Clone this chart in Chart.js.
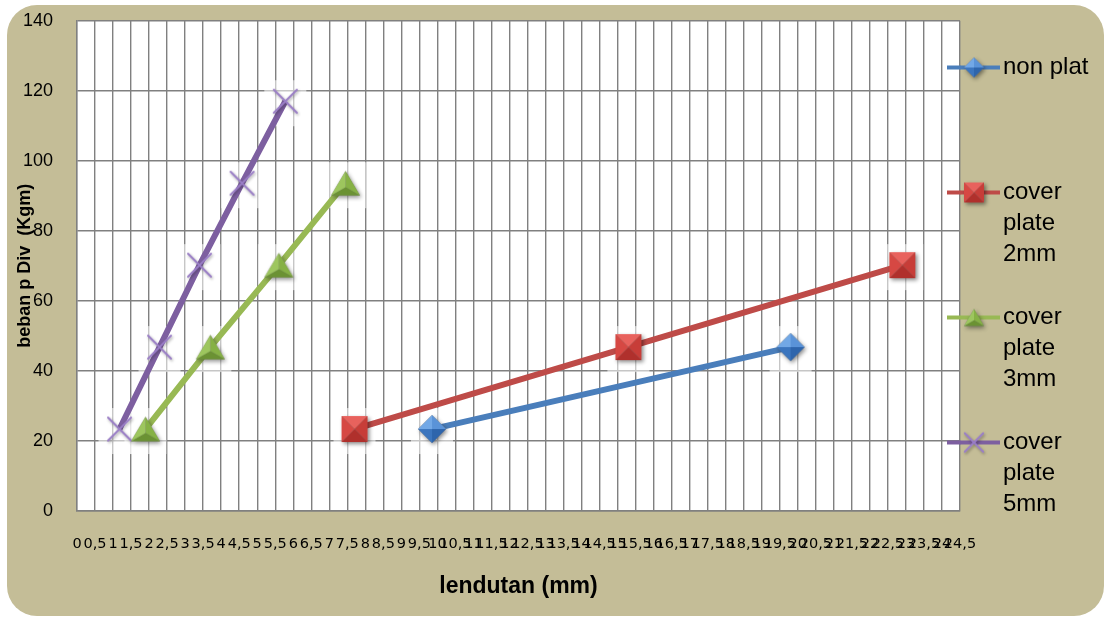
<!DOCTYPE html>
<html>
<head>
<meta charset="utf-8">
<script src="https://cdn.jsdelivr.net/npm/chart.js@4.4.1/dist/chart.umd.min.js"></script>
<style>
  html, body { margin: 0; padding: 0; background: #fff; }
  #wrap { width: 1106px; height: 617px; }
</style>
</head>
<body>
<div id="wrap"><canvas id="c" width="1106" height="617"></canvas></div>
<script>
// Load on the dial (kg·m) against deflection (mm) for each beam type
const loadNonPlat = [23.4, 46.8];
const defNonPlat  = [9.85, 19.8];
const loadCover2  = [23.4, 46.8, 70.2];
const defCover2   = [7.7, 15.3, 22.9];
const loadCover3  = [23.4, 46.8, 70.2, 93.6];
const defCover3   = [1.9, 3.7, 5.6, 7.45];
const loadCover5  = [23.4, 46.8, 70.2, 93.6, 117];
const defCover5   = [1.18, 2.29, 3.4, 4.58, 5.78];

const seriesNames = ['non plat', 'cover plate 2mm', 'cover plate 3mm', 'cover plate 5mm'];
const legendLines = [
  ['non plat', '', '', ''],
  ['cover', 'plate', '2mm', ''],
  ['cover', 'plate', '3mm', ''],
  ['cover', 'plate', '5mm', '']
];
const xTickValues = [0, 0.5, 1, 1.5, 2, 2.5, 3, 3.5, 4, 4.5, 5, 5.5, 6, 6.5, 7, 7.5, 8, 8.5, 9, 9.5,
  10, 10.5, 11, 11.5, 12, 12.5, 13, 13.5, 14, 14.5, 15, 15.5, 16, 16.5, 17, 17.5, 18, 18.5, 19, 19.5,
  20, 20.5, 21, 21.5, 22, 22.5, 23, 23.5, 24, 24.5];
const yTickValues = [0, 20, 40, 60, 80, 100, 120, 140];

const FONT = '"Liberation Sans", Arial, sans-serif';
Chart.defaults.font.family = FONT;
Chart.defaults.color = '#000';

const lineColors = ['#4A7EBB', '#BE4B48', '#98B954', '#7D5FA0'];
const markerKinds = ['diamond', 'square', 'triangle', 'cross'];

// Draws one bevelled marker centred on (cx, cy)
function drawMarker(g, kind, cx, cy, s, shadow) {
  const h = s / 2;
  const path = () => {
    g.beginPath();
    if (kind === 'square') {
      g.rect(cx - h, cy - h, s, s);
    } else if (kind === 'diamond') {
      g.moveTo(cx, cy - h); g.lineTo(cx + h, cy); g.lineTo(cx, cy + h); g.lineTo(cx - h, cy); g.closePath();
    } else if (kind === 'triangle') {
      const th = s * 0.85;
      g.moveTo(cx, cy - th / 2); g.lineTo(cx + h, cy + th / 2); g.lineTo(cx - h, cy + th / 2); g.closePath();
    }
  };
  const facet = (pts, col) => {
    g.beginPath(); g.moveTo(pts[0][0], pts[0][1]);
    for (let i = 1; i < pts.length; i++) g.lineTo(pts[i][0], pts[i][1]);
    g.closePath(); g.fillStyle = col; g.fill();
  };
  if (kind === 'cross') {
    const d = h * 0.92;
    g.save();
    if (shadow) { g.shadowColor = 'rgba(0,0,0,0.35)'; g.shadowBlur = 3; g.shadowOffsetX = 1; g.shadowOffsetY = 1.5; }
    g.strokeStyle = '#9A7EC6'; g.lineWidth = 2; g.lineCap = 'round';
    g.beginPath();
    g.moveTo(cx - d, cy - d); g.lineTo(cx + d, cy + d);
    g.moveTo(cx + d, cy - d); g.lineTo(cx - d, cy + d);
    g.stroke();
    g.restore();
    return;
  }
  if (shadow) {
    g.save();
    g.shadowColor = 'rgba(0,0,0,0.45)'; g.shadowBlur = 4; g.shadowOffsetX = 1.5; g.shadowOffsetY = 2;
    g.fillStyle = '#777'; path(); g.fill();
    g.restore();
  }
  const C = [cx, cy];
  if (kind === 'square') {
    const TL = [cx - h, cy - h], TR = [cx + h, cy - h], BR = [cx + h, cy + h], BL = [cx - h, cy + h];
    facet([TL, TR, C], '#E8625D');
    facet([TR, BR, C], '#C73D38');
    facet([BR, BL, C], '#B0302C');
    facet([BL, TL, C], '#D64843');
  } else if (kind === 'diamond') {
    const T = [cx, cy - h], R = [cx + h, cy], B = [cx, cy + h], L = [cx - h, cy];
    facet([T, R, C], '#5A93D8');
    facet([R, B, C], '#2E65AC');
    facet([B, L, C], '#3B75BE');
    facet([L, T, C], '#72A8E6');
  } else if (kind === 'triangle') {
    const th = s * 0.85;
    const T = [cx, cy - th / 2], BR = [cx + h, cy + th / 2], BL = [cx - h, cy + th / 2];
    const G = [cx, cy + th / 6];
    facet([T, BR, G], '#86B145');
    facet([BR, BL, G], '#6B9233');
    facet([BL, T, G], '#9DC65E');
  }
}

function markerCanvas(kind, size) {
  const dim = Math.ceil(size + 16);
  const c = document.createElement('canvas');
  c.width = dim; c.height = dim;
  drawMarker(c.getContext('2d'), kind, dim / 2, dim / 2, size, true);
  return c;
}

// Legend swatch: a line stub with the marker on it
const ICON_W = 58, ICON_H = 34, ICON_LINE = 53, ICON_MARK = 27;
function legendIcon(i) {
  const c = document.createElement('canvas');
  c.width = ICON_W; c.height = ICON_H;
  const g = c.getContext('2d');
  g.strokeStyle = lineColors[i]; g.lineWidth = 4; g.lineCap = 'butt';
  g.beginPath(); g.moveTo(0, ICON_H / 2); g.lineTo(ICON_LINE, ICON_H / 2); g.stroke();
  drawMarker(g, markerKinds[i], ICON_MARK, ICON_H / 2, 20, true);
  return c;
}

const pointImages = [
  markerCanvas('diamond', 28),
  markerCanvas('square', 26),
  markerCanvas('triangle', 29),
  markerCanvas('cross', 25)
];
const legendIcons = [0, 1, 2, 3].map(legendIcon);

const series = [
  [defNonPlat, loadNonPlat],
  [defCover2, loadCover2],
  [defCover3, loadCover3],
  [defCover5, loadCover5]
];

const datasets = series.map(([xs, ys], i) => ({
  label: seriesNames[i],
  data: xs.map((x, k) => ({ x: x, y: ys[k] })),
  showLine: true,
  borderColor: lineColors[i],
  backgroundColor: lineColors[i],
  borderWidth: 6,
  tension: 0,
  fill: false,
  pointStyle: pointImages[i],
  pointRadius: 12,
  pointHoverRadius: 12
}));

// Legend geometry
const LEGEND_FONT = 24, LEGEND_BOX = 30, LEGEND_PAD = 1;
const mctx = document.createElement('canvas').getContext('2d');
mctx.font = LEGEND_FONT + 'px ' + FONT;
const longestText = Math.max(...legendLines.map(l => mctx.measureText(l.reduce((a, b) => a.length > b.length ? a : b)).width));
const legendWidth = LEGEND_PAD + LEGEND_BOX + LEGEND_FONT / 2 + longestText;
const PLOT_RIGHT = 958;
const padRight = 1106 - PLOT_RIGHT - legendWidth - 12;

const framePlugin = {
  id: 'frame',
  beforeDraw(chart) {
    const { ctx, chartArea: a } = chart;
    ctx.save();
    ctx.fillStyle = '#fff';
    ctx.fillRect(0, 0, chart.width, chart.height);
    const x0 = 7, y0 = 5, x1 = 1104, y1 = 616, r = 30;
    ctx.beginPath();
    ctx.moveTo(x0 + r, y0);
    ctx.lineTo(x1 - r, y0); ctx.arcTo(x1, y0, x1, y0 + r, r);
    ctx.lineTo(x1, y1 - r); ctx.arcTo(x1, y1, x1 - r, y1, r);
    ctx.lineTo(x0 + r, y1); ctx.arcTo(x0, y1, x0, y1 - r, r);
    ctx.lineTo(x0, y0 + r); ctx.arcTo(x0, y0, x0 + r, y0, r);
    ctx.closePath();
    ctx.fillStyle = '#C4BD97';
    ctx.fill();
    ctx.fillStyle = '#fff';
    ctx.fillRect(a.left, a.top, a.right - a.left, a.bottom - a.top);
    ctx.restore();
  }
};

// Soft light patch behind each marker
const haloPlugin = {
  id: 'halo',
  beforeDatasetsDraw(chart) {
    const ctx = chart.ctx;
    ctx.save();
    ctx.fillStyle = 'rgba(255,255,255,0.55)';
    chart.data.datasets.forEach((ds, i) => {
      chart.getDatasetMeta(i).data.forEach(pt => {
        ctx.fillRect(pt.x - 21, pt.y - 21, 42, 46);
      });
    });
    ctx.restore();
  }
};

// The legend clips to its own box; extend each swatch's line stub leftwards over the plot edge
const legendStubPlugin = {
  id: 'legendStub',
  afterDraw(chart) {
    const lg = chart.legend;
    if (!lg || !lg.legendHitBoxes) return;
    const ctx = chart.ctx;
    ctx.save();
    lg.legendHitBoxes.forEach((hb, i) => {
      const cx = hb.left + LEGEND_BOX / 2;
      const cy = hb.top + LEGEND_FONT / 2;
      const start = cx - ICON_W / 2;
      if (start >= lg.left) return;
      ctx.strokeStyle = lineColors[i];
      ctx.lineWidth = 4;
      ctx.beginPath();
      ctx.moveTo(start, cy);
      ctx.lineTo(lg.left + 0.5, cy);
      ctx.stroke();
    });
    ctx.restore();
  }
};

const gridColor = '#808080';

new Chart(document.getElementById('c'), {
  type: 'scatter',
  data: { datasets: datasets },
  options: {
    responsive: false,
    animation: false,
    devicePixelRatio: 1,
    layout: { padding: { left: 0, top: 20.7, right: padRight, bottom: 27.7 } },
    plugins: {
      tooltip: { enabled: false },
      legend: {
        position: 'right',
        align: 'center',
        labels: {
          usePointStyle: true,
          pointStyleWidth: LEGEND_BOX,
          padding: LEGEND_PAD,
          color: '#000',
          font: { size: LEGEND_FONT, lineHeight: '31px' },
          generateLabels(chart) {
            return chart.data.datasets.map((ds, i) => ({
              text: legendLines[i],
              fillStyle: ds.borderColor,
              strokeStyle: ds.borderColor,
              fontColor: '#000',
              lineWidth: 0,
              pointStyle: legendIcons[i],
              hidden: false,
              datasetIndex: i
            }));
          }
        }
      }
    },
    scales: {
      x: {
        type: 'linear',
        min: 0,
        max: 24.5,
        afterBuildTicks(scale) { scale.ticks = xTickValues.map(v => ({ value: v })); },
        afterFit(scale) {
          scale.height = 617 - 27.7 - 511;
          scale.paddingLeft = 0; scale.paddingRight = 0;
        },
        ticks: {
          autoSkip: false,
          maxRotation: 0,
          minRotation: 0,
          padding: 24.7,
          color: '#000',
          font: { family: '"DejaVu Sans", sans-serif', size: 14.5 },
          callback: v => String(v).replace('.', ',')
        },
        grid: { color: gridColor, lineWidth: 1.4, drawTicks: false },
        border: { color: gridColor, width: 1.4 },
        title: {
          display: true,
          text: 'lendutan (mm)',
          color: '#000',
          font: { size: 23, weight: 'bold' },
          padding: { top: 0, bottom: -11.5 }
        }
      },
      y: {
        type: 'linear',
        min: 0,
        max: 140,
        afterBuildTicks(scale) { scale.ticks = yTickValues.map(v => ({ value: v })); },
        afterFit(scale) {
          scale.width = 77;
          scale.paddingTop = 0; scale.paddingBottom = 0;
        },
        ticks: { padding: 24, color: '#000', font: { size: 18 } },
        grid: { color: gridColor, lineWidth: 1.4, drawTicks: false },
        border: { color: gridColor, width: 1.4 },
        title: {
          display: true,
          text: 'beban p Div  (Kgm)',
          color: '#000',
          font: { size: 18, weight: 'bold' },
          padding: { top: 14, bottom: 0 }
        }
      }
    }
  },
  plugins: [framePlugin, haloPlugin, legendStubPlugin]
});
</script>
</body>
</html>
